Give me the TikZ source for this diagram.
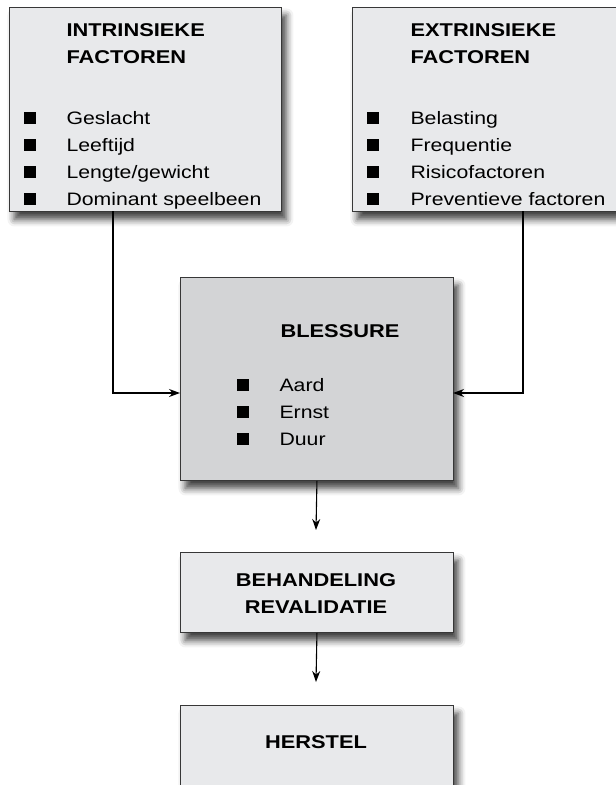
\documentclass[tikz,border=0pt]{standalone}
\usepackage{fontspec}
\setmainfont{Liberation Sans}[FakeStretch=1.18]
\usetikzlibrary{%
  arrows.meta,%
  positioning,%
  shadows.blur,%
  calc%
}
\definecolor{boxlicht}{RGB}{232,233,235}
\definecolor{boxdonker}{RGB}{211,212,214}
\definecolor{rand}{RGB}{55,55,55}

\tikzset{
  kader/.style={draw=rand, line width=0.9pt, fill=boxlicht, anchor=north west,
    inner sep=0pt,
    blur shadow={shadow xshift=5pt, shadow yshift=-8pt,
      shadow blur radius=7pt, shadow opacity=75}},
  kop/.style={font=\fontsize{18.5}{27}\selectfont\bfseries, anchor=base west, inner sep=0pt},
  punt/.style={inner sep=0pt, anchor=base west},
  blokje/.style={fill=black, minimum size=12.5pt, inner sep=0pt},
}

\begin{document}
\begin{tikzpicture}[
  x=1pt, y=-1pt,
  font=\fontsize{18}{27}\selectfont,
  >={Stealth[length=11pt,width=8pt]},
  line width=1.1pt,
]
\useasboundingbox (0,0) rectangle (616,785);

% kaders
\node[kader, minimum width=272pt, minimum height=204pt] (intr) at (9,7) {};
\node[kader, minimum width=266pt, minimum height=204pt] (extr) at (352,7) {};
\node[kader, fill=boxdonker, minimum width=273pt, minimum height=203pt] (bless) at (180,277) {};
\node[kader, minimum width=273pt, minimum height=80pt] (behand) at (180,552) {};
\node[kader, minimum width=273pt, minimum height=110pt] (herstel) at (180,705) {};

% koppen
\node[kop] (intrkop1) at (66,36) {INTRINSIEKE};
\node[kop] (intrkop2) at (66,63) {FACTOREN};
\node[kop] (extrkop1) at (410,36) {EXTRINSIEKE};
\node[kop] (extrkop2) at (410,63) {FACTOREN};
\node[kop] (blesskop) at (280,337) {BLESSURE};
\node[kop, anchor=base] (behandkop1) at (316,586) {BEHANDELING};
\node[kop, anchor=base] (behandkop2) at (316,613) {REVALIDATIE};
\node[kop, anchor=base] (herstelkop) at (316,748) {HERSTEL};

% lijstjes
\foreach \t [count=\i] in {Geslacht,Leeftijd,Lengte/gewicht,Dominant speelbeen} {
  \node[blokje] (intrblok\i) at (30,91+27*\i) {};
  \node[punt] (intrpunt\i) at (66,91+27*\i+6) {\t};
}
\foreach \t [count=\i] in {Belasting,Frequentie,Risicofactoren,Preventieve factoren} {
  \node[blokje] (extrblok\i) at (373,91+27*\i) {};
  \node[punt] (extrpunt\i) at (410,91+27*\i+6) {\t};
}
\foreach \t [count=\i] in {Aard,Ernst,Duur} {
  \node[blokje] (blessblok\i) at (243,358+27*\i) {};
  \node[punt] (blesspunt\i) at (279,358+27*\i+6) {\t};
}

% verbindingen
\coordinate (intruit) at (113,211);
\coordinate (extruit) at (523,211);
\coordinate (blessin1) at (180,393);
\coordinate (blessin2) at (453,393);
\coordinate (behandin) at (316,530);
\coordinate (herstelin) at (316,682);
\draw[->] (intruit) |- (blessin1);
\draw[->] (extruit) |- (blessin2);
\draw[->] (bless.south) -- (behandin);
\draw[->] (behand.south) -- (herstelin);

\end{tikzpicture}
\end{document}
